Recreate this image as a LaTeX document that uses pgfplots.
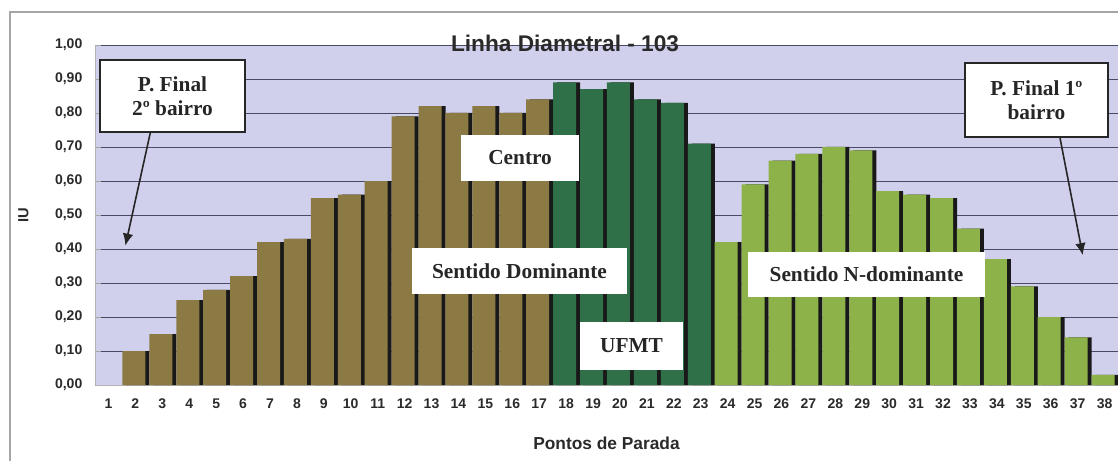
\documentclass[border=0pt]{standalone}
\usepackage{fontspec}
\setmainfont{Liberation Sans}
\newfontfamily\boxfont{Liberation Serif}
\usepackage{pgfplots}
\pgfplotsset{compat=1.18}
\usetikzlibrary{arrows.meta}

\definecolor{bgplot}{HTML}{D0D0EC}
\definecolor{brownbar}{HTML}{8C7A45}
\definecolor{darkgreen}{HTML}{2F7048}
\definecolor{lightgreen}{HTML}{8DB24A}
\definecolor{gridc}{HTML}{4A4A66}
\definecolor{txt}{HTML}{2A2A2A}

\begin{document}
\begin{tikzpicture}
\useasboundingbox (0,0) rectangle (838.5pt,345.75pt);
% thin frame of the chart area
\draw[gray!70, line width=0.8pt] (7.5pt,0) -- (7.5pt,336.75pt) -- (838.5pt,336.75pt);
\begin{axis}[
    name=ax,
    at={(71.25pt,57pt)}, anchor=south west,
    scale only axis,
    width=767.25pt, height=255pt,
    xmin=0.5, xmax=38.5,
    ymin=0, ymax=1,
    axis background/.style={fill=bgplot},
    axis line style={gray!60},
    axis x line*=bottom,
    axis y line*=left,
    ytick={0,0.1,...,1.0},
    ymajorgrids,
    grid style={gridc, line width=0.5pt},
    xtick={1,...,38},
    xtick style={draw=none},
    ytick style={gray!70},
    tick label style={font=\bfseries\fontsize{10.5}{12}\selectfont, text=txt},
    xticklabel style={/pgf/number format/assume math mode=true, yshift=-7pt},
    yticklabel style={/pgf/number format/.cd, use comma, fixed, fixed zerofill, precision=2, assume math mode=true, /tikz/xshift=-6pt},
    xlabel={Pontos de Parada},
    xlabel style={font=\bfseries\fontsize{13}{15}\selectfont, text=txt, yshift=-14pt},
    ylabel={IU},
    ylabel style={font=\bfseries\fontsize{11}{12}\selectfont, text=txt, yshift=13pt},
    clip=false,
]
% shadows
\addplot[ybar, bar width=17.25pt, bar shift=1.9pt, fill=black!90, draw=none] coordinates {
(2,0.10) (3,0.15) (4,0.25) (5,0.28) (6,0.32) (7,0.42) (8,0.43) (9,0.55) (10,0.56)
(11,0.60) (12,0.79) (13,0.82) (14,0.80) (15,0.82) (16,0.80) (17,0.84)
(18,0.89) (19,0.87) (20,0.89) (21,0.84) (22,0.83) (23,0.71)
(24,0.42) (25,0.59) (26,0.66) (27,0.68) (28,0.70) (29,0.69) (30,0.57) (31,0.56)
(32,0.55) (33,0.46) (34,0.37) (35,0.29) (36,0.20) (37,0.14) (38,0.03)
};
% sentido dominante
\addplot[ybar, bar width=17.25pt, bar shift=-1.1pt, fill=brownbar, draw=none] coordinates {
(2,0.10) (3,0.15) (4,0.25) (5,0.28) (6,0.32) (7,0.42) (8,0.43) (9,0.55) (10,0.56)
(11,0.60) (12,0.79) (13,0.82) (14,0.80) (15,0.82) (16,0.80) (17,0.84)
};
% UFMT
\addplot[ybar, bar width=17.25pt, bar shift=-1.1pt, fill=darkgreen, draw=none] coordinates {
(18,0.89) (19,0.87) (20,0.89) (21,0.84) (22,0.83) (23,0.71)
};
% sentido nao dominante
\addplot[ybar, bar width=17.25pt, bar shift=-1.1pt, fill=lightgreen, draw=none] coordinates {
(24,0.42) (25,0.59) (26,0.66) (27,0.68) (28,0.70) (29,0.69) (30,0.57) (31,0.56)
(32,0.55) (33,0.46) (34,0.37) (35,0.29) (36,0.20) (37,0.14) (38,0.03)
};

% title
\node[font=\bfseries\fontsize{17}{19}\selectfont, text=txt] at (axis cs:17.96,1.006) {Linha Diametral - 103};

% annotations
\tikzset{lbl/.style={draw=black!85, line width=1.2pt, fill=white, font=\boxfont\bfseries\fontsize{16}{18}\selectfont, align=center, inner sep=0pt, text=black!85}}
\draw[-{Latex[length=9pt,width=8pt]}, line width=1.2pt, black!85] (axis cs:2.56,0.744) -- (axis cs:1.63,0.41);
\draw[-{Latex[length=9pt,width=8pt]}, line width=1.2pt, black!85] (axis cs:36.34,0.729) -- (axis cs:37.19,0.382);
\node[lbl, minimum width=109pt, minimum height=54pt] at (axis cs:3.38,0.85) {P. Final\\2º bairro};
\node[lbl, minimum width=107pt, minimum height=55.5pt] at (axis cs:35.47,0.838) {P. Final 1º\\bairro};
\node[lbl, draw=none, minimum width=89pt, minimum height=34.5pt] at (axis cs:16.29,0.668) {Centro};
\node[lbl, draw=none, minimum width=161pt, minimum height=34.5pt] at (axis cs:16.27,0.335) {Sentido Dominante};
\node[lbl, draw=none, minimum width=77pt, minimum height=36pt] at (axis cs:20.43,0.115) {UFMT};
\node[lbl, draw=none, minimum width=178pt, minimum height=34pt] at (axis cs:29.16,0.325) {Sentido N-dominante};
\end{axis}
\end{tikzpicture}
\end{document}
